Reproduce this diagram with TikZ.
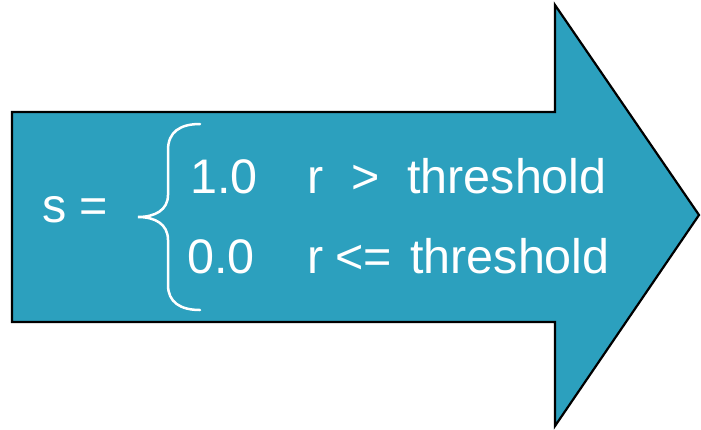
\documentclass[tikz,border=0pt]{standalone}
\usepackage{fontspec}
\setmainfont{Liberation Sans}
\definecolor{arrowfill}{RGB}{44,160,190}
\begin{document}
\begin{tikzpicture}[x=1pt,y=-1pt,
  lbl/.style={anchor=base west,inner sep=0pt,text=white,font=\fontsize{48.5}{58}\selectfont},
  arrowshape/.style={fill=arrowfill,draw=black,line width=2.2pt,line join=miter},
  bracestyle/.style={draw=white,line width=2.5pt,line cap=round}]
\useasboundingbox (0,0) rectangle (701,429);
\draw[arrowshape] (12,112) -- (555,112) -- (555,5) -- (699,215) -- (555,426) -- (555,322) -- (12,322) -- cycle;
\draw[bracestyle] (200,124) .. controls (180,124) and (168,132) .. (168,150)
  -- (168,195) .. controls (168,210) and (155,217) .. (138,217)
  .. controls (155,217) and (168,224) .. (168,240)
  -- (168,285) .. controls (168,302) and (180,310) .. (200,310);
\node[lbl] (s) at (42,222) {s =};
\node[lbl] (v1) at (190,193) {1.0};
\node[lbl] (r1) at (307,193) {r};
\node[lbl] (op1) at (351,193) {>};
\node[lbl] (t1) at (407,193) {threshold};
\node[lbl] (v2) at (187,273) {0.0};
\node[lbl] (r2) at (307,273) {r};
\node[lbl] (op2) at (335,273) {<=};
\node[lbl] (t2) at (410,273) {threshold};
\end{tikzpicture}
\end{document}
